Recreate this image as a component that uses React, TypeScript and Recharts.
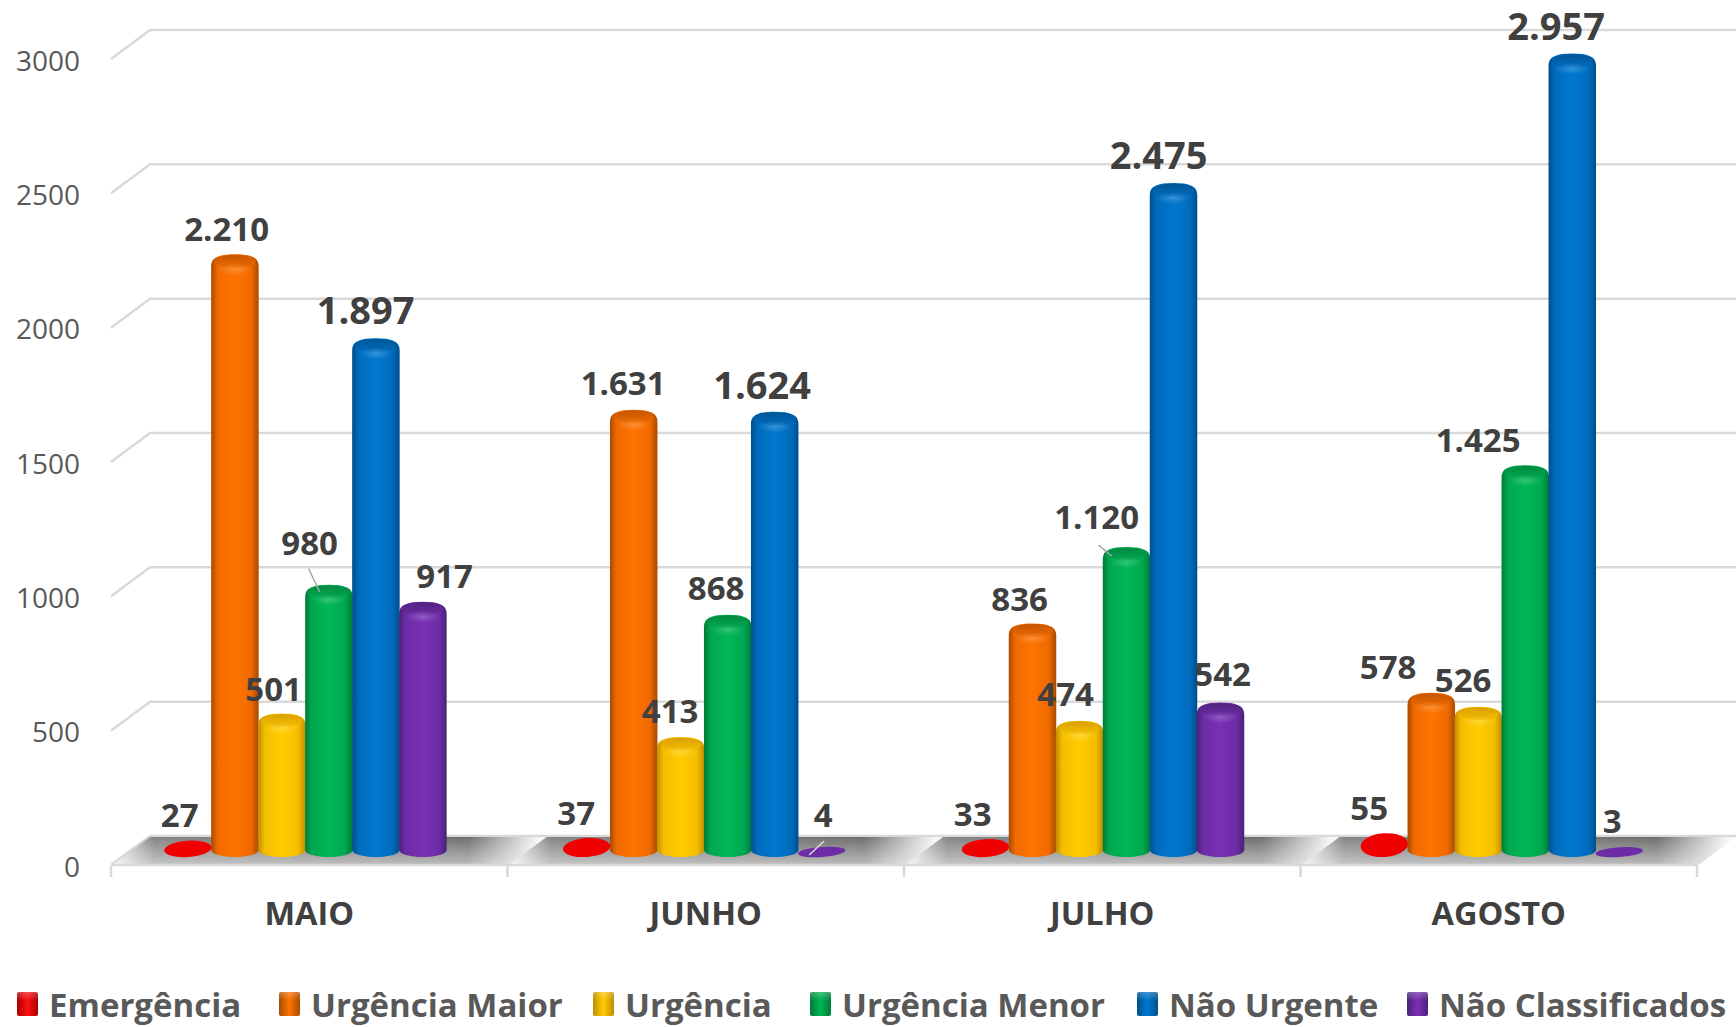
import React from "react";
import { ComposedChart, Bar, XAxis, YAxis, CartesianGrid, LabelList, Legend } from "recharts";

const months = ["MAIO", "JUNHO", "JULHO", "AGOSTO"];
const seriesNames = ["Emergência", "Urgência Maior", "Urgência", "Urgência Menor", "Não Urgente", "Não Classificados"];
const emergencia = [27, 37, 33, 55];
const urgenciaMaior = [2210, 1631, 836, 578];
const urgencia = [501, 413, 474, 526];
const urgenciaMenor = [980, 868, 1120, 1425];
const naoUrgente = [1897, 1624, 2475, 2957];
const naoClassificados = [917, 4, 542, 3];
const yTicks = [0, 500, 1000, 1500, 2000, 2500, 3000];

const seriesValues = [emergencia, urgenciaMaior, urgencia, urgenciaMenor, naoUrgente, naoClassificados];
const chartData = months.map((month, i) => {
  const row: Record<string, string | number> = { month };
  seriesNames.forEach((name, s) => (row[name] = seriesValues[s][i]));
  return row;
});

// dark edge, mid, bright centre, cap
const tones = [
  ["#a80000", "#f00000", "#ff1010", "#c00000"],
  ["#a84a00", "#f06a00", "#ff7300", "#c25500"],
  ["#c08c00", "#f5bd00", "#ffcc00", "#d8a000"],
  ["#007a38", "#00a850", "#00b855", "#008a42"],
  ["#004f8c", "#006bbd", "#0078cf", "#005696"],
  ["#4a2178", "#6c2ca6", "#7a30b5", "#50237f"],
];

// hand placed labels, [dx, dy] from the top of each cylinder
const labelNudges = [
  [[-8, -28], [-8, -28], [-8, -28], [-8, -28]],
  [[-8, -28], [-8, -29], [-8, -27], [-36, -28]],
  [[-8, -27], [-8, -29], [-9, -29], [-8, -29]],
  [[-19, -44], [-9, -29], [-25, -33], [-40, -28]],
  [[-10, -31], [-10, -30], [-10, -31], [-9, -31]],
  [[22, -28], [4, -34], [7, -31], [0, -29]],
];
// series, month, x1, y1, x2, y2 from the top of the cylinder
const leaders = [
  [3, 0, -20, -18, -9, 5, "#a6a6a6"],
  [3, 2, -23, -4, -10, 7, "#a6a6a6"],
  [5, 1, -10, 6, 5, -8, "#d9d9d9"],
];

const legendLefts = [17, 279, 593, 810, 1137, 1407];

const FONT = '"Open Sans", sans-serif';
const BAND = 396.5;
const GAP = 56.75;
const LIFT = 15;
const BASE_DROP = 10;
const SHIFT = -3.6;
const DRIFT = 2.3; // the columns run slightly wider than the axis bands
const DEPTH_X = 39;
const DEPTH_Y = 29;

const formatValue = (v: number) => String(v).replace(/\B(?=(\d{3})+$)/g, ".");

function Cylinder(props: any) {
  const { x, y, width, height, s, index } = props;
  const left = x + SHIFT + DRIFT * index;
  const w = width + 0.5;
  const cx = left + w / 2;
  const top = y - BASE_DROP;
  const base = y + height - LIFT;
  if (height < 20) {
    const cy = 852.5 - height / 2;
    return <ellipse cx={cx} cy={cy} rx={w / 2} ry={4.5 + height / 2} fill={tones[s][1]} transform={`rotate(-4 ${cx} ${cy})`} />;
  }
  const d = `M${left},${top + 5} C${left},${top - 4} ${left + w * 0.16},${top - 7} ${cx},${top - 7}
    C${left + w * 0.84},${top - 7} ${left + w},${top - 4} ${left + w},${top + 5}
    L${left + w},${base} A${w / 2},7 0 0 1 ${left},${base} Z`;
  return (
    <g>
      <path d={d} fill={`url(#body${s})`} />
      <ellipse cx={cx} cy={top} rx={w / 2 - 3} ry={6.5} fill={`url(#cap${s})`} />
      <ellipse cx={cx} cy={top + 8} rx={w * 0.36} ry={6} fill="url(#glow)" />
    </g>
  );
}

function Floor(props: any) {
  const left = props.x - GAP;
  const front = 866;
  const back = front - DEPTH_Y;
  const points = `${left},${front} ${left + DEPTH_X},${back} ${left + BAND + DEPTH_X},${back} ${left + BAND},${front}`;
  return (
    <g>
      <polygon points={points} fill="url(#floorBand)" />
      <polygon points={points} fill="url(#floorFade)" />
    </g>
  );
}

function DataLabel(props: any) {
  const { x, y, width, index, value, s } = props;
  const [dx, dy] = labelNudges[s][index];
  const cx = x + SHIFT + width / 2;
  const top = y - LIFT;
  const leader = leaders.find((l) => l[0] === s && l[1] === index) as any[] | undefined;
  return (
    <g>
      {leader && (
        <line
          x1={cx + leader[2]}
          y1={top + leader[3]}
          x2={cx + leader[4]}
          y2={top + leader[5]}
          stroke={leader[6]}
          strokeWidth={1.5}
        />
      )}
      <text
        x={cx + dx}
        y={top + dy}
        textAnchor="middle"
        dominantBaseline="central"
        fontFamily={FONT}
        fontWeight={700}
        fontSize={s === 4 ? 38 : 33}
        fill="#404040"
      >
        {formatValue(value)}
      </text>
    </g>
  );
}

function GridLine(props: any) {
  const { x1, y1, x2, index } = props;
  return (
    <polyline
      key={index}
      points={`${x1},${y1} ${x1 + DEPTH_X},${y1 - DEPTH_Y} ${x2 + DEPTH_X},${y1 - DEPTH_Y}`}
      fill="none"
      stroke="#d9d9d9"
      strokeWidth={2.5}
    />
  );
}

function MonthTick(props: any) {
  const { x, payload, index } = props;
  const left = x - BAND / 2;
  return (
    <g>
      <line x1={left} y1={866} x2={left} y2={877} stroke="#d9d9d9" strokeWidth={2.5} />
      {index === months.length - 1 && (
        <line x1={left + BAND} y1={866} x2={left + BAND} y2={877} stroke="#d9d9d9" strokeWidth={2.5} />
      )}
      <text
        x={x}
        y={912.5}
        textAnchor="middle"
        dominantBaseline="central"
        fontFamily={FONT}
        fontWeight={700}
        fontSize={32.5}
        fill="#404040"
      >
        {payload.value}
      </text>
    </g>
  );
}

function YTick(props: any) {
  const { x, y, payload } = props;
  return (
    <text x={x} y={y + 0.5} textAnchor="end" dominantBaseline="central" fontFamily={FONT} fontSize={28} fill="#595959">
      {payload.value}
    </text>
  );
}

function LegendRow() {
  return (
    <div style={{ position: "relative", width: 1736, height: 50 }}>
      {seriesNames.map((name, s) => (
        <div
          key={name}
          style={{
            position: "absolute",
            left: legendLefts[s],
            top: 0,
            display: "flex",
            alignItems: "center",
            height: 50,
            whiteSpace: "nowrap",
            fontFamily: FONT,
            fontWeight: 700,
            fontSize: 33,
            color: "#595959",
          }}
        >
          <span
            style={{
              width: 21,
              height: 24,
              marginRight: 11,
              borderRadius: 2,
              background: `linear-gradient(180deg, rgba(255,255,255,0.25), rgba(255,255,255,0) 35%), linear-gradient(90deg, ${tones[s][0]}, ${tones[s][2]} 50%, ${tones[s][0]})`,
            }}
          />
          {name}
        </div>
      ))}
    </div>
  );
}

export default function App() {
  return (
    <div style={{ position: "absolute", left: 0, top: 0, width: 1736, height: 1027, background: "#fff" }}>
      <ComposedChart
        width={1736}
        height={1027}
        data={chartData}
        margin={{ top: 59, right: 39, bottom: 102, left: 0 }}
        barCategoryGap={GAP}
        barGap={0}
      >
        <defs>
          {tones.map((t, s) => (
            <linearGradient key={`body${s}`} id={`body${s}`} x1="0" x2="1" y1="0" y2="0">
              <stop offset="0" stopColor={t[0]} />
              <stop offset="0.14" stopColor={t[1]} />
              <stop offset="0.5" stopColor={t[2]} />
              <stop offset="0.84" stopColor={t[1]} />
              <stop offset="1" stopColor={t[0]} />
            </linearGradient>
          ))}
          {tones.map((t, s) => (
            <linearGradient key={`cap${s}`} id={`cap${s}`} x1="0" x2="0" y1="0" y2="1">
              <stop offset="0" stopColor={t[3]} />
              <stop offset="1" stopColor={t[1]} />
            </linearGradient>
          ))}
          <radialGradient id="glow">
            <stop offset="0" stopColor="#fff" stopOpacity="0.2" />
            <stop offset="1" stopColor="#fff" stopOpacity="0" />
          </radialGradient>
          <linearGradient id="floorBand" x1="0" x2="1" y1="0" y2="0">
            <stop offset="0" stopColor="#f2f2f2" />
            <stop offset="0.1" stopColor="#858585" />
            <stop offset="0.82" stopColor="#707070" />
            <stop offset="0.98" stopColor="#f7f7f7" />
            <stop offset="1" stopColor="#f7f7f7" />
          </linearGradient>
          <linearGradient id="floorFade" x1="0" x2="0" y1="0" y2="1">
            <stop offset="0" stopColor="#fff" stopOpacity="0" />
            <stop offset="1" stopColor="#fff" stopOpacity="0.55" />
          </linearGradient>
        </defs>
        <CartesianGrid vertical={false} horizontal={GridLine as any} />
        <XAxis
          dataKey="month"
          tick={MonthTick as any}
          tickLine={false}
          axisLine={{ stroke: "#d9d9d9", strokeWidth: 2.5 }}
          height={60}
          interval={0}
        />
        <YAxis
          domain={[0, 3000]}
          ticks={yTicks}
          width={111}
          axisLine={false}
          tickLine={false}
          tickSize={0}
          tickMargin={31}
          tick={YTick as any}
        />
        <Legend
          verticalAlign="middle"
          layout="horizontal"
          content={<LegendRow />}
          wrapperStyle={{ left: 0, top: 979, width: 1736, height: 50 }}
        />
        {seriesNames.map((name, s) => (
          <Bar
            key={name}
            dataKey={name}
            isAnimationActive={false}
            fill={tones[s][1]}
            background={s === 0 ? (Floor as any) : undefined}
            shape={(p: any) => <Cylinder {...p} s={s} />}
          >
            <LabelList dataKey={name} content={(p: any) => <DataLabel {...p} s={s} />} />
          </Bar>
        ))}
      </ComposedChart>
    </div>
  );
}
